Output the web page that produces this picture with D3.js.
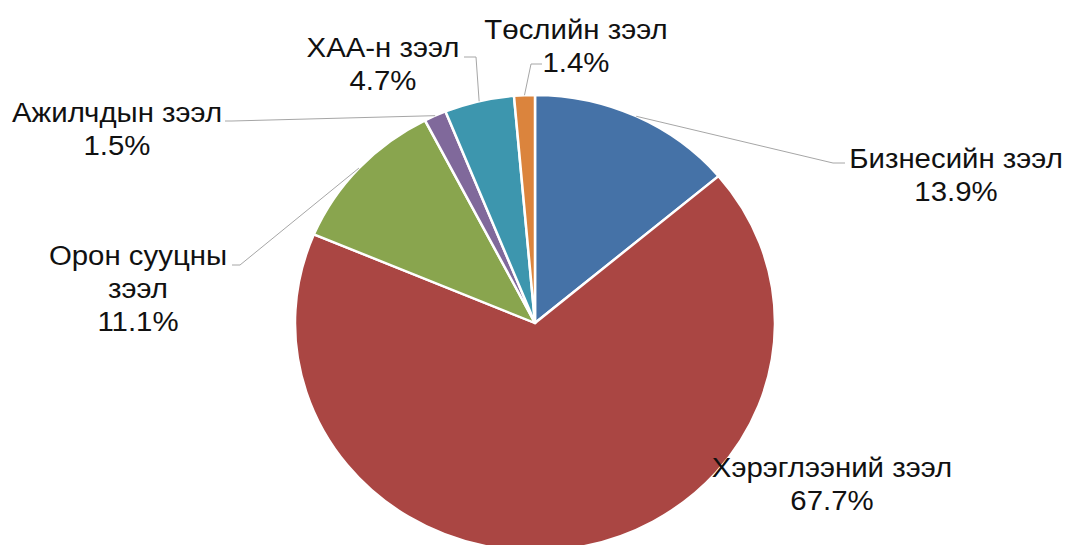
<!DOCTYPE html>
<html>
<head>
<meta charset="utf-8">
<script src="https://cdn.jsdelivr.net/npm/d3@7"></script>
<style>
  body { margin: 0; background: #fff; }
  svg { display: block; }
  .lbl { font-family: "Liberation Sans", Arial, sans-serif; font-size: 28px; fill: #111; }
</style>
</head>
<body>
<svg id="chart" width="1067" height="545"></svg>
<script>
// data
const categories = ['Бизнесийн зээл', 'Хэрэглээний зээл', 'Орон сууцны зээл', 'Ажилчдын зээл', 'ХАА-н зээл', 'Төслийн зээл'];
const shares = [13.9, 67.7, 11.1, 1.5, 4.7, 1.4];
const colors = ['#4572A7', '#AA4643', '#89A54E', '#80699B', '#3D96AE', '#DB843D'];

// label layout: text lines, centre x, first baseline, leader line points
const labelLayout = [
    { lines: ['Бизнесийн зээл', '13.9%'], x: 956, y: 168, leader: [[833, 163], [845, 163]] },
    { lines: ['Хэрэглээний зээл', '67.7%'], x: 832, y: 477, leader: null },
    { lines: ['Орон сууцны', 'зээл', '11.1%'], x: 138, y: 265, leader: [[240, 265], [232, 265]] },
    { lines: ['Ажилчдын зээл', '1.5%'], x: 117, y: 122, leader: [[232, 121], [225, 121]] },
    { lines: ['ХАА-н зээл', '4.7%'], x: 383, y: 57, leader: [[476, 57], [464, 57]] },
    { lines: ['Төслийн зээл', '1.4%'], x: 576, y: 39, leader: [[531, 64], [542, 64]] }
];

const cx = 535, cy = 323, radius = 240, yScale = 228 / 240;
const lineGap = 33;
const textStretch = 1.05;

const svg = d3.select('#chart');

const pie = d3.pie().sort(null).value(d => d);
const arcs = pie(shares);

const arc = d3.arc().innerRadius(0).outerRadius(radius);
const edgeArc = d3.arc().innerRadius(radius).outerRadius(radius);

const g = svg.append('g')
    .attr('transform', `translate(${cx},${cy}) scale(1,${yScale})`);

g.selectAll('path')
    .data(arcs)
    .enter()
    .append('path')
    .attr('d', arc)
    .attr('fill', (d, i) => colors[i])
    .attr('stroke', '#fff')
    .attr('stroke-width', 2.5)
    .attr('stroke-linejoin', 'round');

// leader lines
const line = d3.line();
arcs.forEach((d, i) => {
    const lay = labelLayout[i];
    if (!lay.leader) return;
    const c = edgeArc.centroid(d);
    const start = [cx + c[0], cy + c[1] * yScale];
    svg.append('path')
        .attr('d', line([start, ...lay.leader]))
        .attr('fill', 'none')
        .attr('stroke', '#a6a6a6')
        .attr('stroke-width', 1);
});

// labels
labelLayout.forEach((lay, i) => {
    const t = svg.append('text')
        .attr('class', 'lbl')
        .attr('text-anchor', 'middle')
        .attr('transform', `translate(${lay.x},0) scale(${textStretch},1)`);
    lay.lines.forEach((s, k) => {
        t.append('tspan')
            .attr('x', 0)
            .attr('y', lay.y + k * lineGap)
            .text(s);
    });
});
</script>
</body>
</html>
